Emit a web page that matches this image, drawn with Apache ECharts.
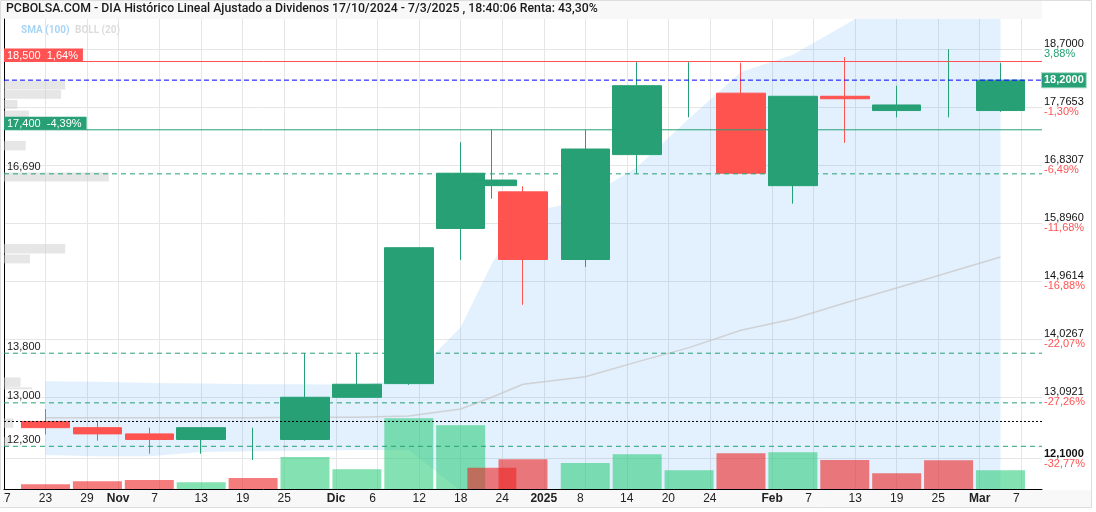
<!DOCTYPE html>
<html>
<head>
<meta charset="utf-8">
<title>PCBOLSA - DIA</title>
<script src="https://cdn.jsdelivr.net/npm/echarts@6.0.0/dist/echarts.min.js"></script>
<style>
    html, body { margin: 0; padding: 0; background: #fff; }
    #chart { width: 1096px; height: 512px; }
</style>
</head>
<body>
<div id="chart"></div>
<script>
    // calendario de sesiones
    var firstDay = '2024-10-17';
    var lastDay = '2025-03-11';
    var holidays = ['2024-12-25', '2024-12-26', '2025-01-01'];

    // velas semanales
    var candleDates = ['2024-10-23', '2024-10-30', '2024-11-06', '2024-11-13', '2024-11-20',
        '2024-11-27', '2024-12-04', '2024-12-11', '2024-12-18', '2024-12-23',
        '2024-12-30', '2025-01-08', '2025-01-15', '2025-01-22', '2025-01-29',
        '2025-02-05', '2025-02-12', '2025-02-19', '2025-02-26', '2025-03-05'];
    var openV  = [12.70, 12.60, 12.50, 12.41, 12.45, 12.41, 13.09, 13.31, 15.81, 16.50,
                  16.40, 15.31, 17.00, 18.15, 17.99, 16.50, 17.94, 17.71, 17.75, 17.71];
    var closeV = [12.60, 12.50, 12.41, 12.60, 12.45, 13.09, 13.30, 15.50, 16.70, 16.59,
                  15.31, 17.09, 18.11, 18.15, 16.70, 17.94, 17.90, 17.80, 17.75, 18.20];
    var lowV   = [12.49, 12.39, 12.18, 12.18, 12.08, 12.39, 13.08, 13.29, 15.30, 16.29,
                  14.58, 15.19, 16.69, 17.60, 16.69, 16.21, 17.19, 17.60, 17.60, 17.69];
    var highV  = [12.90, 12.69, 12.60, 12.60, 12.60, 13.80, 13.80, 15.50, 17.20, 17.40,
                  16.49, 17.40, 18.49, 18.49, 18.48, 17.94, 18.57, 18.11, 18.70, 18.48];
    var volumeV = [47, 77, 90, 67, 110, 320, 197, 707, 637, 213,
                   297, 260, 347, 187, 357, 367, 290, 157, 287, 187];

    // bandas de Bollinger (20)
    var bollUpper = [13.35, 13.34, 13.32, 13.31, 13.30, 13.30, 13.29, 13.37, 14.22, 15.24,
                     16.03, 16.29, 16.80, 17.58, 18.33, 18.61, 19.09, 19.57, 20.07, 20.57];
    var bollMid   = [12.76, 12.76, 12.76, 12.76, 12.76, 12.77, 12.77, 12.79, 12.90, 13.09,
                     13.30, 13.42, 13.66, 13.89, 14.17, 14.35, 14.61, 14.85, 15.10, 15.35];
    var bollLower = [12.16, 12.14, 12.14, 12.21, 12.22, 12.23, 12.24, 12.24, 11.58, 10.95,
                     10.58, 10.53, 10.52, 10.21, 10.02, 10.10, 10.13, 10.13, 10.13, 10.11];

    // perfil de volumen por precio
    var profileLow  = [18.04, 17.89, 17.73, 17.56, 17.06, 16.56, 15.40, 15.24, 13.25, 13.21, 12.59, 12.29];
    var profileHigh = [18.19, 18.04, 17.88, 17.71, 17.22, 16.71, 15.56, 15.39, 13.41, 13.25, 12.75, 12.45];
    var profileVol  = [5.9, 5.5, 1.3, 2.4, 2.1, 10.1, 5.9, 2.5, 1.6, 2.7, 0.9, 0.6];

    // niveles
    var lastPrice = 18.20;
    var startPrice = 12.70;
    var resistance = 18.50;
    var support = 17.40;
    var dashedLevels = [16.69, 13.80, 13.00, 12.30];
    var dashedText = ['16,690', '13,800', '13,000', '12,300'];

    // eje Y
    var yTicks = [18.7, 17.7653, 16.8307, 15.896, 14.9614, 14.0267, 13.0921, 12.1];
    var yTickText = ['18,7000', '17,7653', '16,8307', '15,8960', '14,9614', '14,0267', '13,0921', '12,1000'];
    var yTickPct = ['3,88%', '-1,30%', '-6,49%', '-11,68%', '-16,88%', '-22,07%', '-27,26%', '-32,77%'];

    // eje X
    var xLabelDates = ['2024-10-17', '2024-10-23', '2024-10-29', '2024-11-01', '2024-11-07', '2024-11-13',
        '2024-11-19', '2024-11-25', '2024-12-02', '2024-12-06', '2024-12-12', '2024-12-18',
        '2024-12-24', '2025-01-02', '2025-01-08', '2025-01-14', '2025-01-20', '2025-01-24',
        '2025-02-03', '2025-02-07', '2025-02-13', '2025-02-19', '2025-02-25', '2025-03-03', '2025-03-07'];
    var xLabelText = ['17', '23', '29', 'Nov', '7', '13', '19', '25', 'Dic', '6', '12', '18', '24',
        '2025', '8', '14', '20', '24', 'Feb', '7', '13', '19', '25', 'Mar', '7'];

    var GREEN = '#26a074';
    var RED = '#ff5350';
    var FONT = 'Liberation Sans, Arial, sans-serif';

    function buildDays() {
        var out = [];
        var d = new Date(firstDay + 'T12:00:00Z');
        var end = new Date(lastDay + 'T12:00:00Z');
        while (d <= end) {
            var wd = d.getUTCDay();
            var s = d.toISOString().slice(0, 10);
            if (wd !== 0 && wd !== 6 && holidays.indexOf(s) < 0) out.push(s);
            d.setUTCDate(d.getUTCDate() + 1);
        }
        return out;
    }
    var days = buildDays();

    var candleData = days.map(function (d) {
        var i = candleDates.indexOf(d);
        if (i < 0 || openV[i] === closeV[i]) return '-';
        return [openV[i], closeV[i], lowV[i], highV[i]];
    });
    var dojiData = days.map(function (d) {
        var i = candleDates.indexOf(d);
        if (i < 0 || openV[i] !== closeV[i]) return '-';
        return [openV[i], closeV[i], lowV[i], highV[i]];
    });
    var volumeData = days.map(function (d) {
        var i = candleDates.indexOf(d);
        if (i < 0) return '-';
        var up = i === 0 ? closeV[i] >= openV[i] : closeV[i] >= closeV[i - 1];
        return {
            value: volumeV[i],
            itemStyle: { color: up ? 'rgba(43,203,123,0.58)' : 'rgba(237,37,37,0.6)' }
        };
    });
    var pairs = function (arr) {
        return candleDates.map(function (d, i) { return [d, arr[i]]; });
    };
    var bandWidth = candleDates.map(function (d, i) { return [d, bollUpper[i] - bollLower[i]]; });

    // línea horizontal de lado a lado (primer y último día del eje)
    function hLine(name, v, z, lineStyle) {
        return {
            name: name,
            type: 'line',
            data: [[days[0], v], [days[days.length - 1], v]],
            symbol: 'none',
            silent: true,
            z: z,
            itemStyle: { color: lineStyle.color },
            lineStyle: lineStyle
        };
    }

    // sólo rótulos: la línea ya la pinta hLine
    function labelSeries(name, data) {
        return {
            name: name,
            type: 'line',
            data: [],
            z: 8,
            silent: true,
            markLine: {
                silent: true,
                z: 8,
                symbol: ['none', 'none'],
                lineStyle: { color: 'rgba(0,0,0,0)', width: 1 },
                data: data
            }
        };
    }

    var boxLabel = function (text, bg) {
        return {
            show: true, position: 'insideStartTop', distance: [0, 0],
            formatter: text, color: '#fff', backgroundColor: bg,
            fontFamily: FONT, fontSize: 11, lineHeight: 12, padding: [1, 5, 0, 3]
        };
    };

    var series = [
        {
            name: 'rejilla',
            type: 'line',
            data: [],
            z: 0,
            silent: true,
            markLine: {
                silent: true,
                z: 0,
                symbol: ['none', 'none'],
                lineStyle: { color: '#e6e6e6', type: 'solid', width: 1 },
                label: { show: false },
                data: yTicks.map(function (v) { return { yAxis: v }; })
            }
        },
        {
            name: 'bollLow',
            type: 'line',
            data: pairs(bollLower),
            stack: 'boll',
            symbol: 'none',
            connectNulls: true,
            lineStyle: { width: 0, opacity: 0 },
            silent: true,
            z: 1
        },
        {
            name: 'BOLL (20)',
            type: 'line',
            data: bandWidth,
            stack: 'boll',
            symbol: 'none',
            connectNulls: true,
            lineStyle: { width: 0, opacity: 0 },
            areaStyle: { color: 'rgba(33,150,243,0.13)', opacity: 1 },
            silent: true,
            z: 1
        },
        {
            name: 'media',
            type: 'line',
            data: pairs(bollMid),
            symbol: 'none',
            lineStyle: { color: 'rgba(200,195,195,0.7)', width: 1.5 },
            silent: true,
            z: 2
        },
        {
            name: 'volumen',
            type: 'bar',
            xAxisIndex: 0,
            yAxisIndex: 1,
            data: volumeData,
            barWidth: 49,
            silent: true,
            z: 3
        },
        {
            name: 'perfil',
            type: 'custom',
            xAxisIndex: 1,
            yAxisIndex: 0,
            data: profileLow.map(function (lo, i) { return [lo, profileHigh[i], profileVol[i]]; }),
            encode: { x: 2, y: [0, 1] },
            renderItem: function (params, api) {
                var p1 = api.coord([0, api.value(1)]);
                var p2 = api.coord([api.value(2), api.value(0)]);
                return {
                    type: 'rect',
                    shape: { x: p1[0], y: p1[1], width: p2[0] - p1[0], height: p2[1] - p1[1] - 0.5 },
                    style: { fill: 'rgba(205,205,205,0.5)' }
                };
            },
            silent: true,
            z: 3
        },
        {
            name: 'DIA',
            type: 'candlestick',
            data: candleData,
            barWidth: 49,
            itemStyle: {
                color: GREEN, color0: RED,
                borderColor: GREEN, borderColor0: RED,
                borderWidth: 1
            },
            silent: true,
            z: 4
        },
        {
            name: 'doji',
            type: 'candlestick',
            data: dojiData,
            barWidth: 1,
            itemStyle: {
                color: GREEN, color0: GREEN,
                borderColor: GREEN, borderColor0: GREEN,
                borderWidth: 1
            },
            silent: true,
            z: 4
        },
        hLine('inicio', startPrice, 6, { color: '#000', type: [2, 2], width: 1 })
    ];
    dashedLevels.forEach(function (v, i) {
        series.push(hLine('nivel ' + dashedText[i], v, 6, { color: GREEN, type: [5, 4], width: 1 }));
    });
    series.push(hLine('resistencia', resistance, 7, { color: '#ff5252', type: 'solid', width: 1 }));
    series.push(hLine('soporte', support, 7, { color: GREEN, type: 'solid', width: 1 }));
    series.push(hLine('ultimo', lastPrice, 7, { color: '#0000ff', type: [5, 3], width: 1 }));
    series.push(labelSeries('rotulos', [
        { yAxis: resistance, label: boxLabel('18,500  1,64%', '#ff5252') },
        { yAxis: support, label: boxLabel('17,400  -4,39%', GREEN) },
        {
            yAxis: lastPrice,
            label: {
                show: true, position: 'end', distance: [0, 0],
                formatter: '18,2000', color: '#fff', backgroundColor: GREEN,
                fontFamily: FONT, fontSize: 11, fontWeight: 'bold', lineHeight: 13,
                padding: [1, 2, 0, 2], borderColor: '#9bd4bf', borderWidth: 1
            }
        }
    ].concat(dashedLevels.map(function (v, i) {
        return {
            yAxis: v,
            label: {
                show: true, position: 'insideStartTop', distance: [3, 1],
                formatter: dashedText[i], color: '#222', fontFamily: FONT, fontSize: 11
            }
        };
    }))));

    var chart = echarts.init(document.getElementById('chart'));
    var option = {
        animation: false,
        backgroundColor: '#fff',
        grid: { left: 3.98, right: 54, top: 19, bottom: 23, containLabel: false, outerBoundsMode: 'none' },
        xAxis: [
            {
                type: 'category',
                data: days,
                boundaryGap: false,
                axisLine: { lineStyle: { color: '#000', width: 1 } },
                axisTick: { show: false },
                axisLabel: {
                    interval: function (index, value) { return xLabelDates.indexOf(value) >= 0; },
                    margin: 4,
                    color: '#222',
                    fontFamily: FONT,
                    fontSize: 12,
                    formatter: function (value) {
                        var i = xLabelDates.indexOf(value);
                        if (i < 0) return '';
                        var t = xLabelText[i];
                        if (/^[A-Z]/.test(t) || t.length === 4) return '{b|' + t + '}';
                        if (t.length === 1) return '{s|' + t + '}';
                        return t;
                    },
                    rich: {
                        b: { fontWeight: 'bold', fontSize: 12, color: '#222', fontFamily: FONT },
                        s: { fontSize: 12, color: '#222', fontFamily: FONT, padding: [0, 10, 0, 0] }
                    }
                },
                splitLine: {
                    show: true,
                    interval: function (index, value) { return xLabelDates.indexOf(value) >= 0; },
                    lineStyle: { color: '#e6e6e6', width: 1 }
                }
            },
            {
                type: 'value', min: 0, max: 100, show: false,
                splitLine: { show: false }
            }
        ],
        yAxis: [
            {
                type: 'value',
                position: 'right',
                min: 11.612,
                max: 19.185,
                axisLine: { show: true, lineStyle: { color: '#000', width: 1 } },
                axisTick: { show: false },
                splitLine: { show: false },
                axisLabel: {
                    customValues: yTicks,
                    margin: 2,
                    fontFamily: FONT,
                    formatter: function (v) {
                        var i = yTicks.indexOf(v);
                        if (i < 0) return '';
                        var up = yTickPct[i].charAt(0) !== '-';
                        return '{' + (i === yTicks.length - 1 ? 'vb' : 'v') + '|' + yTickText[i] + '}\n{' +
                            (up ? 'up' : 'dn') + '|' + yTickPct[i] + '}';
                    },
                    rich: {
                        v: { color: '#111', fontSize: 11, lineHeight: 10, fontFamily: FONT },
                        vb: { color: '#111', fontSize: 11, fontWeight: 'bold', lineHeight: 10, fontFamily: FONT },
                        up: { color: GREEN, fontSize: 11, lineHeight: 10, fontFamily: FONT },
                        dn: { color: '#ff5252', fontSize: 11, lineHeight: 10, fontFamily: FONT }
                    }
                }
            },
            {
                type: 'value', min: 0, max: 4700, show: false,
                splitLine: { show: false }
            }
        ],
        series: series,
        graphic: [
            {
                type: 'rect', z: -10, silent: true,
                shape: { x: 0.5, y: 0.5, width: 1091, height: 507 },
                style: { fill: '#fff', stroke: '#dedede', lineWidth: 1 }
            },
            {
                type: 'rect', z: -9, silent: true,
                shape: { x: 1, y: 1, width: 1041, height: 18 },
                style: { fill: '#f8f8f8' }
            },
            {
                type: 'rect', z: -9, silent: true,
                shape: { x: 1, y: 490, width: 1090, height: 17 },
                style: { fill: '#f8f8f8' }
            },
            {
                // el primer rótulo del eje queda recortado por el borde
                type: 'rect', z: 100, silent: true,
                shape: { x: 0, y: 490, width: 3.5, height: 17 },
                style: { fill: '#f8f8f8' }
            },
            {
                type: 'text', z: 100, silent: true,
                left: 6, top: 3,
                style: {
                    text: 'PCBOLSA.COM - DIA Histórico Lineal Ajustado a Dividenos 17/10/2024 - 7/3/2025 , 18:40:06 Renta: 43,30%',
                    font: '500 12.3px Roboto, sans-serif',
                    fill: '#1a1a1a'
                }
            },
            {
                type: 'text', z: 100, silent: true,
                left: 21, top: 25,
                style: {
                    text: 'SMA (100)',
                    font: 'bold 10px Roboto, sans-serif',
                    fill: '#a9d5f5'
                }
            },
            {
                type: 'text', z: 100, silent: true,
                left: 75, top: 25,
                style: {
                    text: 'BOLL (20)',
                    font: 'bold 10px Roboto, sans-serif',
                    fill: '#dcdcdc'
                }
            }
        ]
    };
    chart.setOption(option);
</script>
</body>
</html>
